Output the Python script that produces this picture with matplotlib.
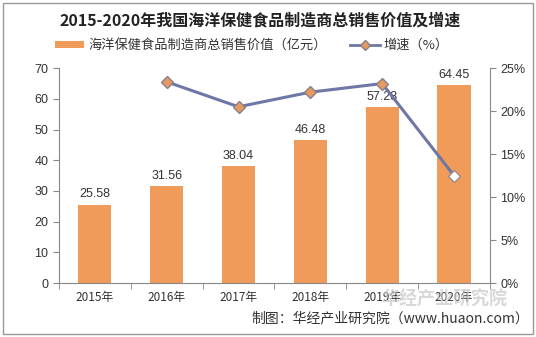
import matplotlib
matplotlib.use("Agg")
import matplotlib.pyplot as plt
from matplotlib.patches import Rectangle, Patch
from matplotlib.lines import Line2D
from matplotlib.ticker import FuncFormatter

plt.rcParams['font.family'] = ['Noto Sans CJK SC', 'DejaVu Sans']

years = ["2015年", "2016年", "2017年", "2018年", "2019年", "2020年"]
sales = [25.58, 31.56, 38.04, 46.48, 57.28, 64.45]
growth = [None, 23.4, 20.5, 22.2, 23.2, 12.5]

bar_color = "#F09B5A"
line_color = "#6E77A6"
text_color = "#333333"
num_font = ["Liberation Sans", "DejaVu Sans"]

fig = plt.figure(figsize=(5.36, 3.37), dpi=100)
fig.patches.append(Rectangle((0.006, 0.01), 0.988, 0.98, transform=fig.transFigure,
                             fill=False, edgecolor="#999999", linewidth=1.0))

ax = fig.add_axes([0.110, 0.160, 0.804, 0.638])
x = list(range(len(years)))
ax.bar(x, sales, width=0.46, color=bar_color, zorder=2)
for xi, v in zip(x, sales):
    ax.text(xi, v + 1.5, f"{v:.2f}", ha="center", va="bottom", fontsize=9,
            color=text_color, family=num_font)

ax.set_xlim(-0.5, len(years) - 0.5)
ax.set_ylim(0, 70)
ax.set_yticks(range(0, 71, 10))
ax.set_xticks(x)
ax.set_xticklabels(years, fontsize=8.5, color=text_color)
ax.set_xticks([i + 0.5 for i in range(-1, len(years))], minor=True)
ax.tick_params(axis="x", which="major", length=0, pad=6)
ax.tick_params(axis="x", which="minor", length=4, color="#888888")
ax.tick_params(axis="y", length=4, color="#888888", labelsize=9, labelcolor=text_color)
for lbl in ax.get_yticklabels():
    lbl.set_family(num_font)
for s in ["top", "right"]:
    ax.spines[s].set_visible(False)
ax.spines["left"].set_color("#888888")
ax.spines["bottom"].set_color("#888888")

ax2 = ax.twinx()
gx = [xi for xi, g in zip(x, growth) if g is not None]
gy = [g for g in growth if g is not None]
ax2.plot(gx, gy, color=line_color, linewidth=2.2, zorder=3)
ax2.plot(gx[:-1], gy[:-1], linestyle="none", marker="D", markersize=6,
         markerfacecolor="#E59A60", markeredgecolor="#8A7F8A", zorder=4)
ax2.plot(gx[-1:], gy[-1:], linestyle="none", marker="D", markersize=6,
         markerfacecolor="white", markeredgecolor="#9A8A8A", zorder=4)
ax2.set_ylim(0, 25)
ax2.set_yticks(range(0, 26, 5))
ax2.yaxis.set_major_formatter(FuncFormatter(lambda v, p: f"{v:.0f}%"))
ax2.tick_params(axis="y", length=4, color="#888888", labelsize=9, labelcolor=text_color)
for lbl in ax2.get_yticklabels():
    lbl.set_family(num_font)
for s in ["top", "left", "bottom"]:
    ax2.spines[s].set_visible(False)
ax2.spines["right"].set_color("#888888")

fig.text(0.485, 0.94, "2015-2020年我国海洋保健食品制造商总销售价值及增速", ha="center", va="center",
         fontsize=11.5, fontweight="bold", color="#222222")

handles = [Patch(facecolor=bar_color, edgecolor="none"),
           Line2D([0], [0], color=line_color, linewidth=2, marker="D", markersize=5,
                  markerfacecolor="#E59A60", markeredgecolor="#8A7F8A")]
fig.legend(handles, ["海洋保健食品制造商总销售价值（亿元）", "增速（%）"], loc="center",
           bbox_to_anchor=(0.47, 0.865), ncol=2, frameon=False, fontsize=9.5,
           handlelength=2.2, handleheight=0.5, columnspacing=1.8, handletextpad=0.3,
           labelcolor=text_color)

fig.text(0.988, 0.055, "制图：华经产业研究院（www.huaon.com）", ha="right", va="center",
         fontsize=10, color=text_color)
fig.text(0.83, 0.112, "华经产业研究院", ha="center", va="center", fontsize=13,
         color="#C8C8C8", alpha=0.7, fontweight="bold")

fig.savefig("out.png", dpi=100)
